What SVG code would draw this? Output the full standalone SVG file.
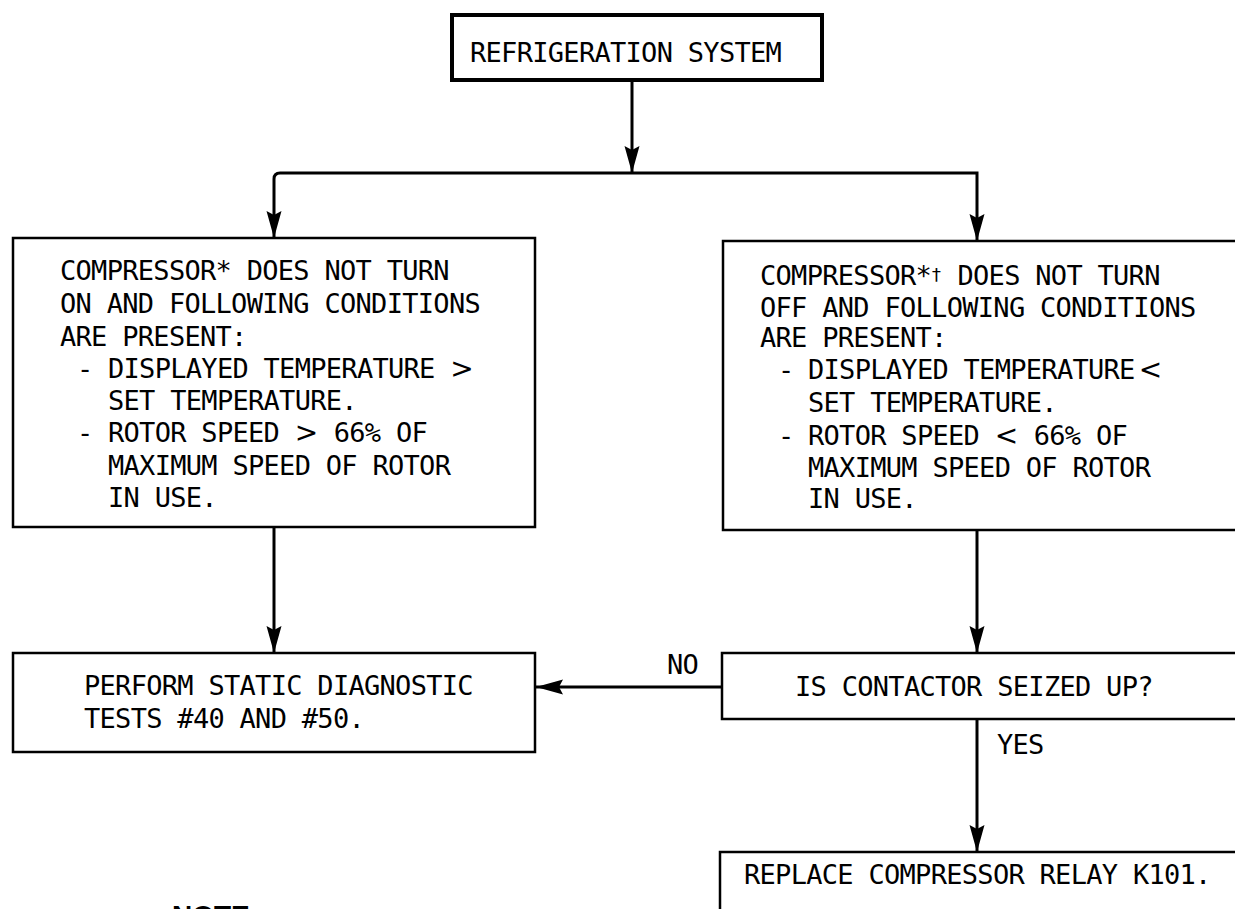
<svg xmlns="http://www.w3.org/2000/svg" width="1235" height="909" viewBox="0 0 1235 909">
  <defs>
    <marker id="arrow" markerUnits="userSpaceOnUse" markerWidth="28" markerHeight="16" refX="27" refY="8" orient="auto">
      <path d="M0,0.5 L27,8 L0,15.5 L4,8 z" fill="#000"/>
    </marker>
    <style>
      .box { fill: #fff; stroke: #000; stroke-width: 2.5; }
      .box-heavy { fill: #fff; stroke: #000; stroke-width: 4; }
      .t { font-family: "DejaVu Sans Mono", "Liberation Mono", monospace; font-size: 27px; letter-spacing: -0.7px; fill: #000; }
      .sym { font-family: "DejaVu Sans", "Liberation Sans", sans-serif; font-size: 28px; letter-spacing: 0; }
      .dag { font-size: 18px; letter-spacing: 0; }
      .note { font-family: "Liberation Sans", Arial, sans-serif; font-weight: bold; font-size: 28px; fill: #000; }
      .wire { fill: none; stroke: #000; stroke-width: 3; }
      .arrowed { marker-end: url(#arrow); }
    </style>
  </defs>

  <rect width="1235" height="909" fill="#fff"/>

  <!-- connectors -->
  <g id="connectors">
    <path class="wire arrowed" d="M632,80 V173"/>
    <path class="wire arrowed" d="M632,173 H280 Q274,173 274,179 V238"/>
    <path class="wire arrowed" d="M632,173 H977 V241"/>
    <path class="wire arrowed" d="M274,527 V653"/>
    <path class="wire arrowed" d="M977,530 V653"/>
    <path class="wire arrowed" d="M722,687 H536"/>
    <path class="wire arrowed" d="M977,719 V852"/>
    <text class="t" x="667" y="674">NO</text>
    <text class="t" x="997" y="754">YES</text>
  </g>

  <!-- start node -->
  <g id="node-refrigeration-system">
    <rect class="box-heavy" x="452" y="15" width="370" height="65"/>
    <text class="t" x="470" y="62">REFRIGERATION SYSTEM</text>
  </g>

  <!-- compressor stays off -->
  <g id="node-compressor-not-on">
    <rect class="box" x="13" y="238" width="522" height="289"/>
    <text class="t" x="60" y="280">COMPRESSOR* DOES NOT TURN</text>
    <text class="t" x="60" y="313">ON AND FOLLOWING CONDITIONS</text>
    <text class="t" x="60" y="346">ARE PRESENT:</text>
    <text class="t" x="77" y="378">-</text>
    <text class="t" x="108" y="378">DISPLAYED TEMPERATURE <tspan class="sym">&gt;</tspan></text>
    <text class="t" x="108" y="410">SET TEMPERATURE.</text>
    <text class="t" x="77" y="442">-</text>
    <text class="t" x="108" y="442">ROTOR SPEED <tspan class="sym">&gt;</tspan> 66% OF</text>
    <text class="t" x="108" y="475">MAXIMUM SPEED OF ROTOR</text>
    <text class="t" x="108" y="507">IN USE.</text>
  </g>

  <!-- compressor stays on -->
  <g id="node-compressor-not-off">
    <rect class="box" x="723" y="241" width="530" height="289"/>
    <text class="t" x="760" y="285">COMPRESSOR*<tspan class="dag" dy="-4">†</tspan><tspan dy="4"> DOES NOT TURN</tspan></text>
    <text class="t" x="760" y="317">OFF AND FOLLOWING CONDITIONS</text>
    <text class="t" x="760" y="347">ARE PRESENT:</text>
    <text class="t" x="778" y="379">-</text>
    <text class="t" x="808" y="379">DISPLAYED TEMPERATURE<tspan class="sym" dx="4">&lt;</tspan></text>
    <text class="t" x="808" y="412">SET TEMPERATURE.</text>
    <text class="t" x="778" y="445">-</text>
    <text class="t" x="808" y="445">ROTOR SPEED <tspan class="sym">&lt;</tspan> 66% OF</text>
    <text class="t" x="808" y="477">MAXIMUM SPEED OF ROTOR</text>
    <text class="t" x="808" y="508">IN USE.</text>
  </g>

  <!-- static diagnostics -->
  <g id="node-static-tests">
    <rect class="box" x="13" y="653" width="522" height="99"/>
    <text class="t" x="84" y="695">PERFORM STATIC DIAGNOSTIC</text>
    <text class="t" x="84" y="728">TESTS #40 AND #50.</text>
  </g>

  <!-- decision -->
  <g id="node-contactor-seized">
    <rect class="box" x="722" y="653" width="530" height="66"/>
    <text class="t" x="795" y="696">IS CONTACTOR SEIZED UP?</text>
  </g>

  <!-- relay replacement -->
  <g id="node-replace-relay">
    <rect class="box" x="720" y="852" width="530" height="90"/>
    <text class="t" x="744" y="884">REPLACE COMPRESSOR RELAY K101.</text>
  </g>

  <!-- footnote heading -->
  <g id="note">
    <text class="note" x="172" y="925">NOTE</text>
  </g>
</svg>
